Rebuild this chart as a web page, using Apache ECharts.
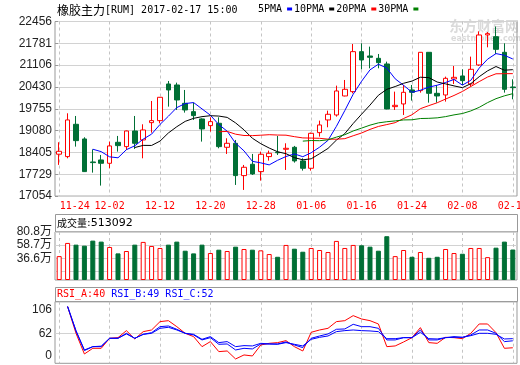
<!DOCTYPE html>
<html><head><meta charset="utf-8">
<script src="https://cdn.jsdelivr.net/npm/echarts@6/dist/echarts.min.js"></script>
<style>html,body{margin:0;padding:0;background:#fff}#c{width:520px;height:365px}</style>
</head><body><div id="c"></div>
<script>
// ---------- data ----------
const dates = ['11-24','11-25','11-28','11-29','11-30','12-01','12-02','12-05','12-06','12-07','12-08','12-09','12-12','12-13','12-14','12-15','12-16','12-19','12-20','12-21','12-22','12-23','12-26','12-27','12-28','12-29','12-30','01-03','01-04','01-05','01-06','01-09','01-10','01-11','01-12','01-13','01-16','01-17','01-18','01-19','01-20','01-23','01-24','01-25','01-26','02-03','02-06','02-07','02-08','02-09','02-10','02-13','02-14','02-15','02-16'];
const opens  = [18350,18276,19276,18822,18110,18172,18069,18719,18585,19069,18791,19327,19389,20523,20492,19925,19667,19441,19234,19307,18564,18688,17688,18039,17812,18276,18410,18503,18564,18142,17915,19018,19410,19564,20152,20286,21523,21389,21317,21142,19822,19905,20338,20317,21503,20234,20183,20678,20771,20523,21111,22040,21987,21503,20430];
const closes = [18440,19410,18770,17812,18090,18069,18606,18616,19069,18688,19100,19389,20111,20338,20028,19719,19544,19131,19358,18585,18688,17688,17946,17740,18348,18379,18395,18533,18142,17915,18997,19255,19585,20307,20358,21523,21265,21348,21183,19750,19863,20265,20265,21503,20234,20152,20698,20729,20626,20977,22039,22080,21595,20358,20410];
const lows   = [18020,18224,18585,17800,17780,17379,17915,18430,18480,18513,18224,19018,19306,19822,19719,19637,19410,18740,19049,18533,18358,17399,17245,17709,17533,18152,18327,17863,18090,17843,17843,18894,19183,19513,20140,20234,20977,21008,21008,19740,19719,19564,20008,20255,19946,19946,19977,20523,20492,20441,21080,21657,21451,20255,20049];
const highs  = [18720,19616,19533,18874,18500,18327,18740,18915,19080,19533,19276,19997,20120,20616,20564,20338,19946,19460,19492,19492,18843,18791,18018,18358,18430,18461,18915,18688,18606,18224,19018,19389,19698,20472,20647,21760,21781,21678,21451,21214,20286,20492,20492,21510,21510,20492,20750,21080,20977,21369,22150,22130,22300,21781,20668];
const ma5  = [null,null,null,null,18504,18430,18269,18239,18490,18610,18816,18972,19271,19525,19793,19917,19948,19752,19556,19267,19061,18690,18453,18129,18082,18020,18162,18279,18359,18273,18396,18568,18779,19212,19700,20206,20608,20960,21135,21014,20682,20482,20265,20329,20426,20484,20570,20663,20488,20636,21014,21290,21463,21410,21296];
const ma10 = [null,null,null,null,null,null,null,null,null,18557,18623,18621,18755,19008,19201,19366,19460,19512,19541,19530,19489,19319,19103,18843,18675,18541,18426,18366,18244,18177,18208,18365,18529,18786,18987,19301,19588,19870,20174,20357,20444,20545,20613,20732,20720,20583,20526,20464,20409,20531,20749,20930,21063,20949,20966];
const ma20 = [null,null,null,null,null,null,null,null,null,null,null,null,null,null,null,null,null,null,null,19044,19056,18970,18929,18925,18938,18954,18943,18939,18893,18854,18849,18842,18816,18814,18831,18921,19007,19118,19209,19267,19326,19455,19571,19759,19853,19942,20057,20167,20291,20444,20596,20738,20838,20841,20843];
const ma30 = [null,null,null,null,null,null,null,null,null,null,null,null,null,null,null,null,null,null,null,null,null,null,null,null,null,null,null,null,null,18755,18773,18768,18795,18879,18954,19069,19158,19249,19320,19355,19380,19410,19415,19454,19460,19475,19513,19567,19609,19689,19800,19947,20068,20156,20224];
const volumes = [402000,624000,595000,578000,663000,646000,556000,448000,488000,595000,641000,573000,539000,595000,646000,493000,448000,595000,454000,510000,488000,561000,522000,510000,499000,437000,391000,590000,527000,476000,539000,505000,471000,658000,539000,590000,584000,561000,493000,737000,402000,505000,391000,471000,374000,391000,522000,454000,442000,539000,539000,385000,544000,646000,513092];
const rsiA = [null,112,62,23.4,34,34,52.7,53.9,67,51.4,65.1,68.2,83.8,85.6,74.4,62,55.8,37.1,46.5,27.8,29,14.1,21.6,19.7,40.2,43.3,44.6,48.3,37.1,29,63.9,68.2,71.3,83.8,85.6,95,88.7,85.6,79.4,37.1,38.4,45.8,53.9,72.6,44.6,43.3,54.5,53.9,52,62,79.4,79.4,63.2,34,35];
const rsiB = [null,112,66,29.7,37.1,37.1,52.7,52.7,60.8,52.7,60.1,63.2,74.4,75.7,69.5,62,58.9,49.6,53.9,41.5,42.1,30.9,34,32.8,42.1,42.1,42.1,45.8,40.2,35.3,52.7,57,60.8,69.5,70.1,78.8,74.4,74.4,71.3,49.6,49.6,53.9,53.9,68.2,49.6,49.6,53.9,55.8,54.5,58.9,68.2,68.2,62,46.5,48];
const rsiC = [null,112,67,30.9,37.1,38,52.7,52.7,62,52.7,60,62,71.3,73.2,68.2,62,60.1,50.8,55.8,44.6,46.5,37.1,39,38.4,43.3,42.1,41.5,44.6,41.5,38.4,50.8,54.5,57,65.1,67,68.2,67,66.4,65.1,52,52,53.9,53.9,63.9,52,51.4,53.9,54.5,54.5,57.6,62,62,60.1,51.4,52];
const priceMin = 17054, priceMax = 22456, priceStep = 675.25;
const volMax = 808000;
// label anchors on the volume axis; the lowest one carries the "14.5万" and the bottom "0" as two text lines
const volLabelValues = [90900,366000,587000,808000];
const volLabelText = {90900:'14.5万\n0', 366000:'36.6万', 587000:'58.7万', 808000:'80.8万'};
const volGridValues = [145000,366000,587000,808000];
const rsiMin = 6, rsiMax = 121;
const rsiLabelValues = [21,62,106];
const rsiLabelText = {21:'0',62:'62',106:'106'};
const rsiGridValues = [62];
const titleName = '橡胶主力', titleCode = '[RUM] 2017-02-17 15:00';
const volHeader = ['成交量', ':513092'];
const rsiHeader = ['RSI_A:40', ' RSI_B:49 RSI_C:52'];

// ---------- styles ----------
const RED = '#ff0000', GREEN = '#006f35', BLUE = '#0000ff';
const FRAME = '#999999', GRIDC = '#d2d2d2';
const MONO = '"DejaVu Sans Mono", monospace';
const SANS = '"Liberation Sans", Arial, "Noto Sans CJK SC", sans-serif';
const CJK = '"Noto Sans CJK SC", sans-serif';
const L = 55, W = 462;

const vSplit = {show:true, interval:5, alignWithLabel:true, lineStyle:{color:'#c4c4c4', type:[3,3], width:1}};
function catAxis(gi, showLabel){
  return {type:'category', gridIndex:gi, data:dates, boundaryGap:true,
    axisLine:{show:false}, axisTick:{show:false},
    axisLabel: showLabel ? {interval:5, color:RED, fontFamily:MONO, fontSize:10, margin:5,
      hideOverlap:false, alignMaxLabel:'center', alignMinLabel:'center',
      formatter:(v,i)=> i===0 ? '{f|'+v+'}' : v,
      rich:{f:{padding:[0,0,0,31], color:RED, fontFamily:MONO, fontSize:10}}} : {show:false},
    splitLine: vSplit};
}
const yLabelBase = {fontFamily:SANS, fontSize:12, color:'#222', margin:3, hideOverlap:false};

const chart = echarts.init(document.getElementById('c'), null, {renderer:'canvas'});
chart.setOption({
  animation:false,
  backgroundColor:'#fff',
  grid:[
    {left:L, top:21.5, width:W, height:174.6, show:true, borderColor:FRAME, borderWidth:1, outerBoundsMode:'none'},
    {left:L, top:232, width:W, height:48, show:true, borderColor:FRAME, borderWidth:1, outerBoundsMode:'none'},
    {left:L, top:301.7, width:W, height:61.6, show:true, borderColor:FRAME, borderWidth:1, outerBoundsMode:'none'}
  ],
  legend:{data:['5PMA','10PMA','20PMA','30PMA'], left:258, top:4, padding:0, itemGap:2,
    itemWidth:5, itemHeight:3, icon:'rect', align:'right', selectedMode:false,
    textStyle:{fontFamily:MONO, fontSize:10, color:'#000'}},
  graphic:{elements:[
    {type:'text', x:449, y:19, z:0, style:{text:'东方财富网', font:'bold 14px "Noto Sans CJK SC"', fill:'rgba(150,150,150,0.35)'}},
    {type:'text', x:451, y:35, z:0, style:{text:'eastmoney.com', font:'bold 8px "DejaVu Sans"', fill:'rgba(150,150,150,0.35)'}},
    {type:'text', x:57, y:10, style:{text:'{c|'+titleName+'}{m|'+titleCode+'}', verticalAlign:'middle',
      rich:{c:{font:'12px '+CJK, fill:'#000'}, m:{font:'10px '+MONO, fill:'#000'}}}},
    {type:'rect', shape:{x:L+0.5, y:214.5, width:W, height:17.5}, style:{fill:'none', stroke:FRAME, lineWidth:1}},
    {type:'text', x:57, y:223.5, style:{text:'{c|'+volHeader[0]+'}{d|'+volHeader[1]+'}', verticalAlign:'middle',
      rich:{c:{font:'10px '+CJK, fill:'#000'}, d:{font:'11px "DejaVu Sans"', fill:'#000'}}}},
    {type:'rect', shape:{x:L+0.5, y:287.5, width:W, height:14.2}, style:{fill:'none', stroke:FRAME, lineWidth:1}},
    {type:'text', x:57, y:294.5, style:{text:'{a|'+rsiHeader[0]+'}{b|'+rsiHeader[1]+'}', verticalAlign:'middle',
      rich:{a:{font:'10px '+MONO, fill:RED}, b:{font:'10px '+MONO, fill:BLUE}}}}
  ]},
  xAxis:[catAxis(0,true), catAxis(1,false), catAxis(2,false)],
  yAxis:[
    {type:'value', gridIndex:0, min:priceMin, max:priceMax, interval:priceStep,
      axisLine:{show:false}, axisTick:{show:true, inside:true, length:3, lineStyle:{color:FRAME}},
      axisLabel:Object.assign({formatter:v=>String(Math.round(v))}, yLabelBase),
      splitLine:{lineStyle:{color:GRIDC}}},
    {type:'value', gridIndex:1, min:0, max:volMax,
      axisLine:{show:false}, axisTick:{show:false, customValues:volGridValues},
      axisLabel:Object.assign({customValues:volLabelValues, lineHeight:11,
        formatter:v=> volLabelText[v] || (v/10000).toFixed(1)+'万'}, yLabelBase),
      splitLine:{lineStyle:{color:GRIDC}}},
    {type:'value', gridIndex:2, min:rsiMin, max:rsiMax,
      axisLine:{show:false}, axisTick:{show:false, customValues:rsiGridValues},
      axisLabel:Object.assign({customValues:rsiLabelValues, formatter:v=> rsiLabelText[v] || String(v)}, yLabelBase),
      splitLine:{lineStyle:{color:GRIDC}}}
  ],
  series:[
    {type:'candlestick', name:'K', xAxisIndex:0, yAxisIndex:0, barWidth:5,
      data: opens.map((o,i)=>[o, closes[i], lows[i], highs[i]]),
      itemStyle:{color:'#ffffff', color0:GREEN, borderColor:RED, borderColor0:GREEN, borderWidth:1}},
    {type:'line', name:'5PMA', xAxisIndex:0, yAxisIndex:0, data:ma5, symbol:'none', color:BLUE, lineStyle:{width:1, color:BLUE}, z:3},
    {type:'line', name:'10PMA', xAxisIndex:0, yAxisIndex:0, data:ma10, symbol:'none', color:'#000', lineStyle:{width:1, color:'#000'}, z:3},
    {type:'line', name:'20PMA', xAxisIndex:0, yAxisIndex:0, data:ma20, symbol:'none', color:RED, lineStyle:{width:1, color:RED}, z:3},
    {type:'line', name:'30PMA', xAxisIndex:0, yAxisIndex:0, data:ma30, symbol:'none', color:'#008000', lineStyle:{width:1, color:'#008000'}, z:3},
    {type:'bar', name:'VOL', xAxisIndex:1, yAxisIndex:1, barWidth:5,
      data: volumes.map((v,i)=>({value:v, itemStyle: closes[i] >= opens[i]
        ? {color:'#ffffff', borderColor:RED, borderWidth:1}
        : {color:GREEN, borderColor:GREEN, borderWidth:1}}))},
    {type:'line', name:'RSI_A', xAxisIndex:2, yAxisIndex:2, data:rsiA, symbol:'none', lineStyle:{width:1, color:RED}, color:RED},
    {type:'line', name:'RSI_B', xAxisIndex:2, yAxisIndex:2, data:rsiB, symbol:'none', lineStyle:{width:1, color:BLUE}, color:BLUE},
    {type:'line', name:'RSI_C', xAxisIndex:2, yAxisIndex:2, data:rsiC, symbol:'none', lineStyle:{width:1, color:BLUE}, color:BLUE}
  ]
});
</script></body></html>
